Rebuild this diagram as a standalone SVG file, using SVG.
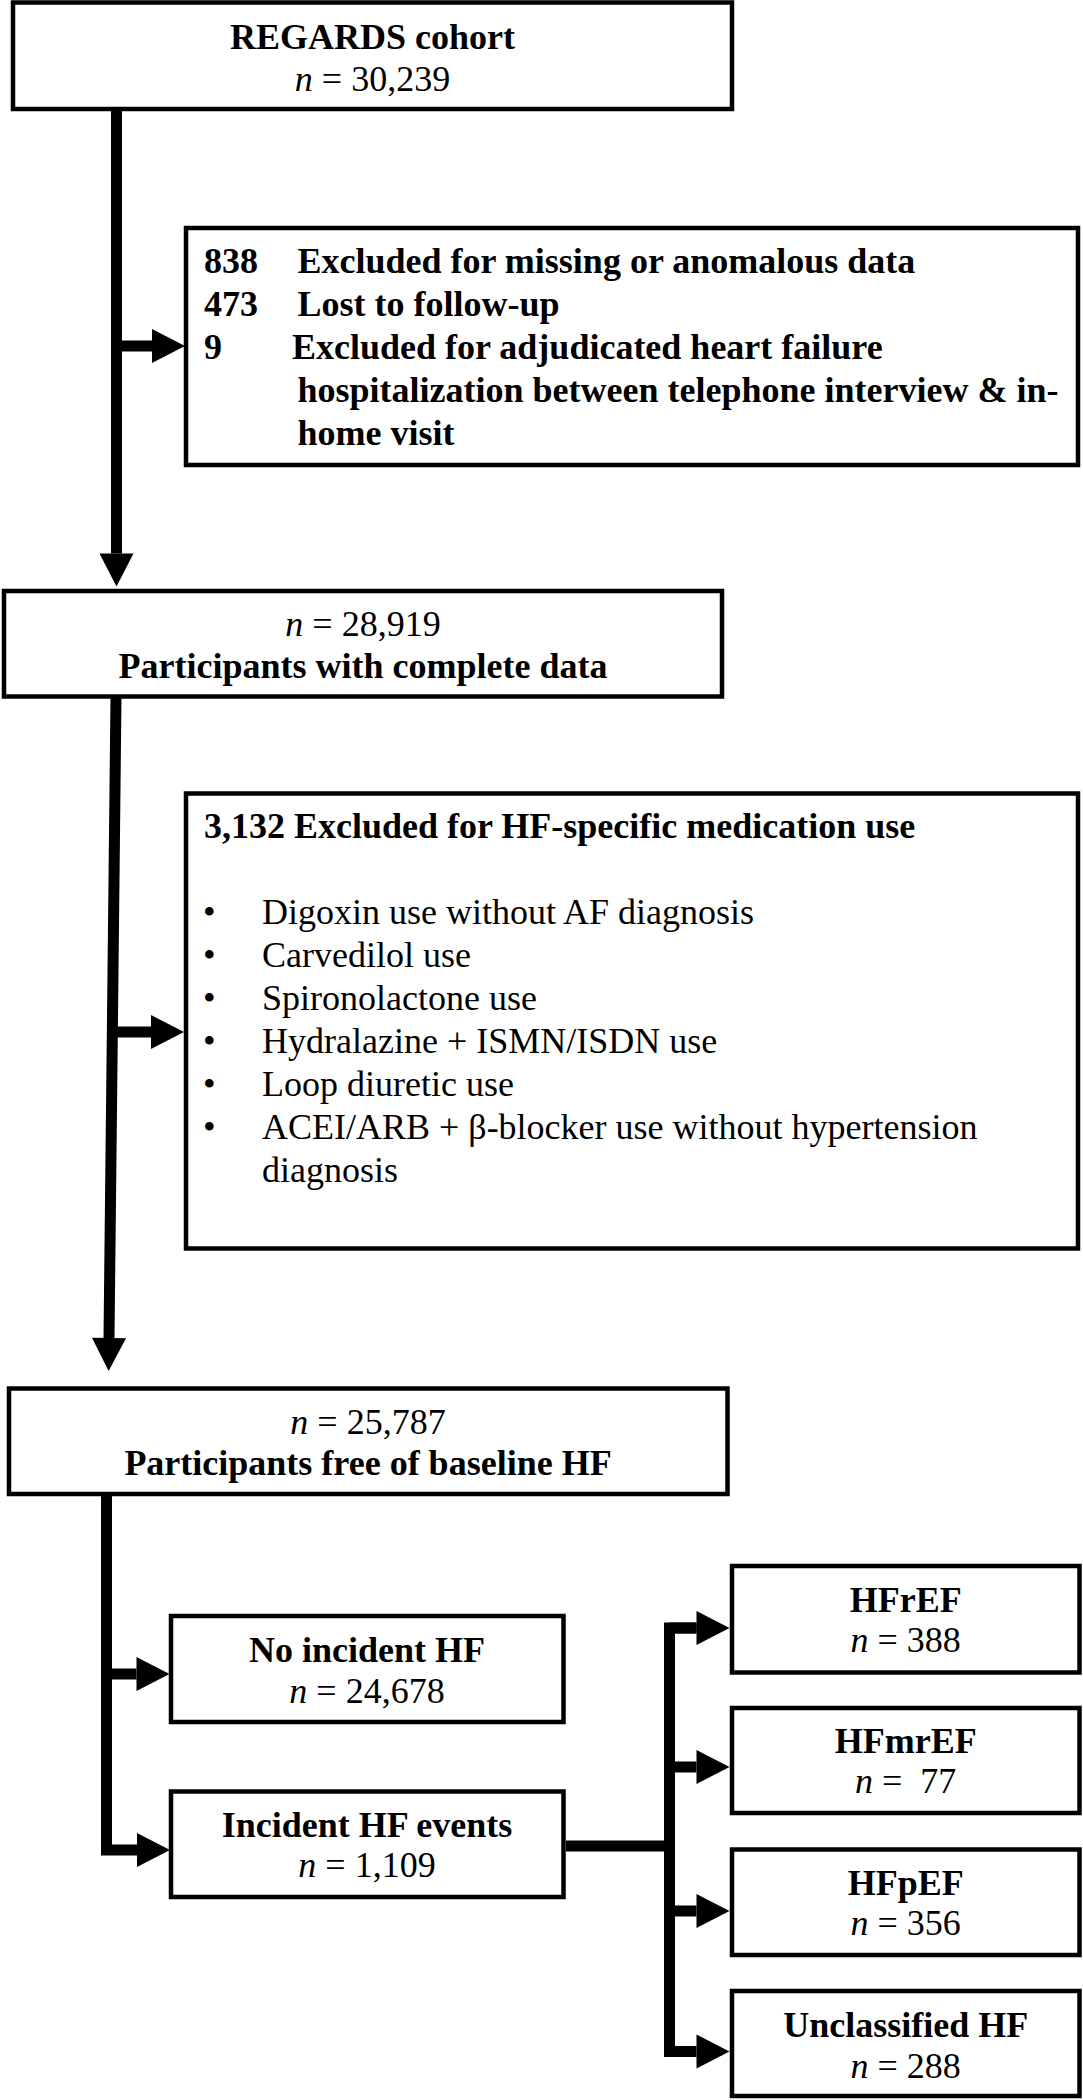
<svg xmlns="http://www.w3.org/2000/svg" width="1083" height="2100" viewBox="0 0 1083 2100">
<style>
.box{fill:#fff;stroke:#000;stroke-width:4.5;stroke-linejoin:miter}
text{font-family:"Liberation Serif","Times New Roman",serif;font-size:36px;fill:#000}
.c{text-anchor:middle}
.b{font-weight:bold}
.i{font-style:italic}
.ln{fill:none;stroke:#000;stroke-width:11;stroke-linejoin:miter;stroke-linecap:butt}
</style>
<defs>
<marker id="ah" markerUnits="userSpaceOnUse" markerWidth="34" markerHeight="35" refX="0" refY="17" orient="auto" overflow="visible">
<path d="M0,0 L33,17 L0,34 z" fill="#000"/>
</marker>
</defs>
<rect width="1083" height="2100" fill="#fff"/>
<g id="connectors">
<path class="ln" d="M116.5,109 V553.5" marker-end="url(#ah)"/>
<path class="ln" d="M116.5,346 H152" marker-end="url(#ah)"/>
<path class="ln" d="M116,696.5 L109,1338" marker-end="url(#ah)"/>
<path class="ln" d="M112.3,1032 H151" marker-end="url(#ah)"/>
<path class="ln" d="M106.5,1494 V1850 H137" marker-end="url(#ah)"/>
<path class="ln" d="M106.5,1674 H136.5" marker-end="url(#ah)"/>
<path class="ln" d="M566,1846 H669.5"/>
<path class="ln" d="M696.5,1628 H669.5 V2051.5 H696.5" marker-end="url(#ah)"/>
<path class="ln" d="M669.5,1628 H696.5" marker-end="url(#ah)"/>
<path class="ln" d="M669.5,1767 H696.5" marker-end="url(#ah)"/>
<path class="ln" d="M669.5,1911 H696.5" marker-end="url(#ah)"/>
</g>
<g id="n-cohort">
<rect class="box" x="13" y="2.5" width="719" height="106.5"/>
<text class="c b" x="372.5" y="48.6">REGARDS cohort</text>
<text class="c" x="372.5" y="90.5"><tspan class="i">n</tspan> = 30,239</text>
</g>
<g id="n-excl1">
<rect class="box" x="186" y="228" width="892" height="237"/>
<text class="b" x="204" y="272.5">838</text>
<text class="b" x="297.5" y="272.5">Excluded for missing or anomalous data</text>
<text class="b" x="204" y="315.5">473</text>
<text class="b" x="297.5" y="315.5">Lost to follow-up</text>
<text class="b" x="204" y="358.5">9</text>
<text class="b" x="292" y="358.5">Excluded for adjudicated heart failure</text>
<text class="b" x="297.5" y="401.5">hospitalization between telephone interview &amp; in-</text>
<text class="b" x="297.5" y="444.5">home visit</text>
</g>
<g id="n-complete">
<rect class="box" x="4" y="591" width="718" height="105.5"/>
<text class="c" x="363" y="635.5"><tspan class="i">n</tspan> = 28,919</text>
<text class="c b" x="363" y="677.5">Participants with complete data</text>
</g>
<g id="n-excl2">
<rect class="box" x="186" y="793.5" width="892" height="455"/>
<text class="b" x="204" y="838">3,132 Excluded for HF-specific medication use</text>
<text x="203" y="923.5">•</text>
<text x="262" y="923.5">Digoxin use without AF diagnosis</text>
<text x="203" y="966.5">•</text>
<text x="262" y="966.5">Carvedilol use</text>
<text x="203" y="1009.5">•</text>
<text x="262" y="1009.5">Spironolactone use</text>
<text x="203" y="1052.5">•</text>
<text x="262" y="1052.5">Hydralazine + ISMN/ISDN use</text>
<text x="203" y="1095.5">•</text>
<text x="262" y="1095.5">Loop diuretic use</text>
<text x="203" y="1138.5">•</text>
<text x="262" y="1138.5">ACEI/ARB + β-blocker use without hypertension</text>
<text x="262" y="1181.5">diagnosis</text>
</g>
<g id="n-free">
<rect class="box" x="9" y="1388.5" width="718.5" height="105.5"/>
<text class="c" x="368" y="1433.6"><tspan class="i">n</tspan> = 25,787</text>
<text class="c b" x="368" y="1475">Participants free of baseline HF</text>
</g>
<g id="n-noinc">
<rect class="box" x="171" y="1616" width="392.5" height="106"/>
<text class="c b" x="367" y="1662">No incident HF</text>
<text class="c" x="367" y="1702.5"><tspan class="i">n</tspan> = 24,678</text>
</g>
<g id="n-inc">
<rect class="box" x="171" y="1791.5" width="392.5" height="105.5"/>
<text class="c b" x="367" y="1836.5">Incident HF events</text>
<text class="c" x="367" y="1876.5"><tspan class="i">n</tspan> = 1,109</text>
</g>
<g id="n-hfref">
<rect class="box" x="732" y="1566" width="347.5" height="106.5"/>
<text class="c b" x="905.7" y="1611.8">HFrEF</text>
<text class="c" x="905.7" y="1652"><tspan class="i">n</tspan> = 388</text>
</g>
<g id="n-hfmref">
<rect class="box" x="732" y="1708" width="347.5" height="105"/>
<text class="c b" x="905.7" y="1752.5">HFmrEF</text>
<text class="c" x="905.7" y="1793.4"><tspan class="i">n</tspan> = &#160;77</text>
</g>
<g id="n-hfpef">
<rect class="box" x="732" y="1849.5" width="347.5" height="105.5"/>
<text class="c b" x="905.7" y="1895">HFpEF</text>
<text class="c" x="905.7" y="1935"><tspan class="i">n</tspan> = 356</text>
</g>
<g id="n-uncl">
<rect class="box" x="732" y="1991" width="347.5" height="105"/>
<text class="c b" x="905.7" y="2036.6">Unclassified HF</text>
<text class="c" x="905.7" y="2077.5"><tspan class="i">n</tspan> = 288</text>
</g>
</svg>
